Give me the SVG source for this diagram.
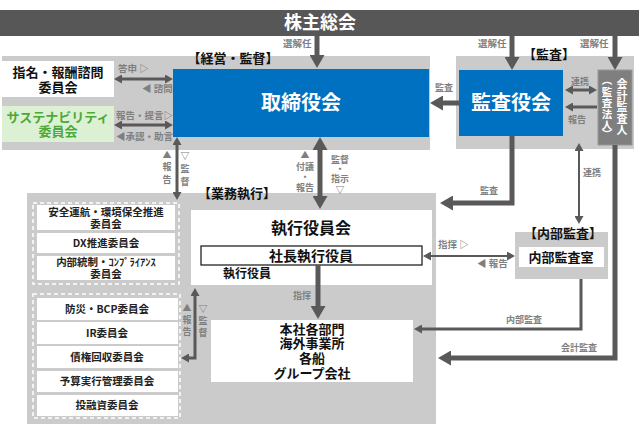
<svg xmlns="http://www.w3.org/2000/svg" width="639" height="438" viewBox="0 0 639 438">
<defs>
<style>
text{font-family:"Noto Sans CJK JP","Noto Sans",sans-serif;}
.region{fill:#cbcbcb;}
.white{fill:#ffffff;}
.blue{fill:#0070c0;}
.hd{font-size:13px;font-weight:bold;fill:#111;text-anchor:middle;}
.bt{font-size:20px;font-weight:bold;fill:#fff;text-anchor:middle;}
.bx{font-size:13px;font-weight:bold;fill:#111;text-anchor:middle;}
.cm{font-size:10.5px;font-weight:bold;fill:#222;text-anchor:middle;}
.lb{font-size:9.5px;font-weight:bold;fill:#7f7f7f;}
.lc{font-size:9px;font-weight:bold;fill:#7f7f7f;text-anchor:middle;}
.vt{font-size:11px;font-weight:bold;fill:#fff;text-anchor:middle;}
.dash{fill:none;stroke:#fff;stroke-width:1.5;stroke-dasharray:4 3;}
.thick{fill:none;stroke:#595959;stroke-width:5;}
.med{fill:none;stroke:#595959;stroke-width:3;}
.thin{fill:none;stroke:#595959;stroke-width:2;}
</style>
<marker id="ab" markerUnits="userSpaceOnUse" markerWidth="13" markerHeight="15" refX="1" refY="7.5" orient="auto-start-reverse" viewBox="0 0 13 15"><path d="M0,0 L13,7.5 L0,15z" fill="#595959"/></marker>
<marker id="as" markerUnits="userSpaceOnUse" markerWidth="8" markerHeight="9" refX="1" refY="4.5" orient="auto-start-reverse" viewBox="0 0 8 9"><path d="M0,0 L8,4.5 L0,9z" fill="#595959"/></marker>
</defs>
<rect width="639" height="438" fill="#fff"/>

<g id="regions">
<rect class="region" x="2" y="56" width="428" height="94"/>
<rect class="region" x="456" y="56" width="178" height="93"/>
<rect class="region" x="27" y="193" width="409" height="231"/>
<rect class="region" x="515" y="232" width="93" height="47"/>
<text class="hd" x="233" y="63">【経営・監督】</text>
<text class="hd" x="549" y="59">【監査】</text>
<text class="hd" x="237" y="198">【業務執行】</text>
<text class="hd" x="563" y="238">【内部監査】</text>
<rect class="dash" x="33" y="203" width="146" height="81"/>
<rect class="dash" x="33" y="294" width="147" height="124"/>
</g>

<g id="shareholders">
<rect x="0" y="10" width="639" height="26" fill="#575757"/>
<text x="320" y="29" font-size="18" font-weight="bold" fill="#fff" text-anchor="middle">株主総会</text>
</g>

<g id="board">
<rect class="blue" x="173" y="69" width="256" height="68"/>
<text class="bt" x="301" y="110">取締役会</text>
</g>

<g id="auditboard">
<rect class="blue" x="459" y="70" width="104" height="66"/>
<text class="bt" x="511" y="110">監査役会</text>
</g>

<g id="accountant">
<rect x="598" y="70" width="34" height="75" fill="#7f7f7f" stroke="#999" stroke-width="1"/>
<text class="vt" x="622"><tspan x="622" y="88">会</tspan><tspan x="622" y="99.5">計</tspan><tspan x="622" y="111">監</tspan><tspan x="622" y="122.5">査</tspan><tspan x="622" y="134">人</tspan></text>
<text class="vt" x="607" style="font-size:10.5px"><tspan x="607" y="84">︵</tspan><tspan x="607" y="96">監</tspan><tspan x="607" y="107">査</tspan><tspan x="607" y="118">法</tspan><tspan x="607" y="129">人</tspan><tspan x="607" y="138">︶</tspan></text>
</g>

<g id="nomination">
<rect class="white" x="2" y="61" width="112" height="36"/>
<text class="bx" x="58" y="77">指名・報酬諮問</text>
<text class="bx" x="58" y="92">委員会</text>
</g>

<g id="sustainability">
<rect x="2" y="106" width="112" height="36" fill="#dcf1d4"/>
<text class="bx" x="58" y="122" style="fill:#4ea838">サステナビリティ</text>
<text class="bx" x="58" y="136" style="fill:#4ea838">委員会</text>
</g>

<g id="execcommittee">
<rect class="white" x="191" y="210" width="241" height="75"/>
<text x="311" y="234" font-size="16" font-weight="bold" fill="#111" text-anchor="middle">執行役員会</text>
<rect x="201" y="246" width="221" height="19" fill="#fff" stroke="#111" stroke-width="1.2"/>
<text x="311" y="261" font-size="14" font-weight="bold" fill="#111" text-anchor="middle">社長執行役員</text>
<text x="223" y="278" font-size="12" font-weight="bold" fill="#111">執行役員</text>
</g>

<g id="departments">
<rect class="white" x="211" y="320" width="202" height="62"/>
<text class="bx" x="312" y="334">本社各部門</text>
<text class="bx" x="312" y="348">海外事業所</text>
<text class="bx" x="312" y="363">各船</text>
<text class="bx" x="312" y="378">グループ会社</text>
</g>

<g id="internalaudit">
<rect class="white" x="519" y="247" width="85" height="20"/>
<text class="bx" x="561" y="262">内部監査室</text>
</g>

<g id="committees1">
<rect class="white" x="37" y="205" width="138" height="25"/>
<text class="cm" x="106" y="215.5">安全運航・環境保全推進</text>
<text class="cm" x="106" y="227.5">委員会</text>
<rect class="white" x="37" y="233" width="138" height="20"/>
<text class="cm" x="106" y="247">DX推進委員会</text>
<rect class="white" x="37" y="256" width="138" height="24"/>
<text class="cm" x="106" y="266">内部統制・ｺﾝﾌﾟﾗｲｱﾝｽ</text>
<text class="cm" x="106" y="278">委員会</text>
</g>

<g id="committees2">
<rect class="white" x="37" y="298" width="141" height="22"/>
<text class="cm" x="107" y="313">防災・BCP委員会</text>
<rect class="white" x="37" y="322" width="141" height="22"/>
<text class="cm" x="107" y="337">IR委員会</text>
<rect class="white" x="37" y="346" width="141" height="22"/>
<text class="cm" x="107" y="361">債権回収委員会</text>
<rect class="white" x="37" y="371" width="141" height="21"/>
<text class="cm" x="107" y="385">予算実行管理委員会</text>
<rect class="white" x="37" y="395" width="141" height="21"/>
<text class="cm" x="107" y="409">投融資委員会</text>
</g>

<g id="connectors">
<path class="thick" d="M317,36 V56" marker-end="url(#ab)"/>
<path class="thick" d="M512,36 V58" marker-end="url(#ab)"/>
<path class="thick" d="M615,36 V58" marker-end="url(#ab)"/>
<path class="thick" d="M459,103 H442" marker-end="url(#ab)"/>
<path class="thick" d="M512,136 V203 H452" marker-end="url(#ab)"/>
<path class="thick" d="M615,145 V358 H450" marker-end="url(#ab)"/>
<path class="thick" d="M318,265 V307" marker-end="url(#ab)"/>
<path class="thick" d="M320,149 V197" marker-start="url(#ab)" marker-end="url(#ab)"/>
<path class="med" d="M121,79 H166" marker-start="url(#as)" marker-end="url(#as)"/>
<path class="med" d="M121,125 H166" marker-start="url(#as)" marker-end="url(#as)"/>
<path class="med" d="M177,144 V193" marker-start="url(#as)" marker-end="url(#as)"/>
<path class="med" d="M188,358 H195 V295" marker-start="url(#as)" marker-end="url(#as)"/>
<path class="med" d="M572,90 H590" marker-start="url(#as)" marker-end="url(#as)"/>
<path class="med" d="M597,107 H572" marker-end="url(#as)"/>
<path class="thin" d="M579,150 V217" marker-start="url(#as)" marker-end="url(#as)"/>
<path class="med" d="M581,279 V329 H421" marker-end="url(#as)"/>
<path class="thin" d="M430,256 H508" marker-start="url(#as)" marker-end="url(#as)"/>

<text class="lb" x="283" y="47">選解任</text>
<text class="lb" x="478" y="47">選解任</text>
<text class="lb" x="580" y="47">選解任</text>
<text class="lb" x="118" y="72">答申 ▷</text>
<text class="lb" x="142" y="92">◀ 諮問</text>
<text class="lb" x="116" y="119">報告・提言▷</text>
<text class="lb" x="116" y="140">◀承認・助言</text>
<text class="lc" x="167" y="158">▲</text>
<text class="lc" x="167" y="170">報</text>
<text class="lc" x="167" y="183">告</text>
<text class="lc" x="185" y="159">▽</text>
<text class="lc" x="185" y="172">監</text>
<text class="lc" x="185" y="185">督</text>
<text class="lc" x="305" y="158">▲</text>
<text class="lc" x="305" y="170">付議</text>
<text class="lc" x="305" y="180">・</text>
<text class="lc" x="305" y="191">報告</text>
<text class="lc" x="340" y="163">監督</text>
<text class="lc" x="340" y="172">・</text>
<text class="lc" x="340" y="182">指示</text>
<text class="lc" x="340" y="193">▽</text>
<text class="lc" x="444" y="91">監査</text>
<text class="lc" x="580" y="85">連携</text>
<text class="lc" x="577" y="123">報告</text>
<text class="lc" x="489" y="194">監査</text>
<text class="lc" x="592" y="176">連携</text>
<text class="lc" x="302" y="299">指揮</text>
<text class="lb" x="438" y="248">指揮 ▷</text>
<text class="lb" x="477" y="267">◀ 報告</text>
<text class="lc" x="187" y="311">▲</text>
<text class="lc" x="187" y="323">報</text>
<text class="lc" x="187" y="335">告</text>
<text class="lc" x="203" y="312">▽</text>
<text class="lc" x="203" y="324">監</text>
<text class="lc" x="203" y="336">督</text>
<text class="lc" x="524" y="323">内部監査</text>
<text class="lc" x="579" y="351">会計監査</text>
</g>
</svg>
